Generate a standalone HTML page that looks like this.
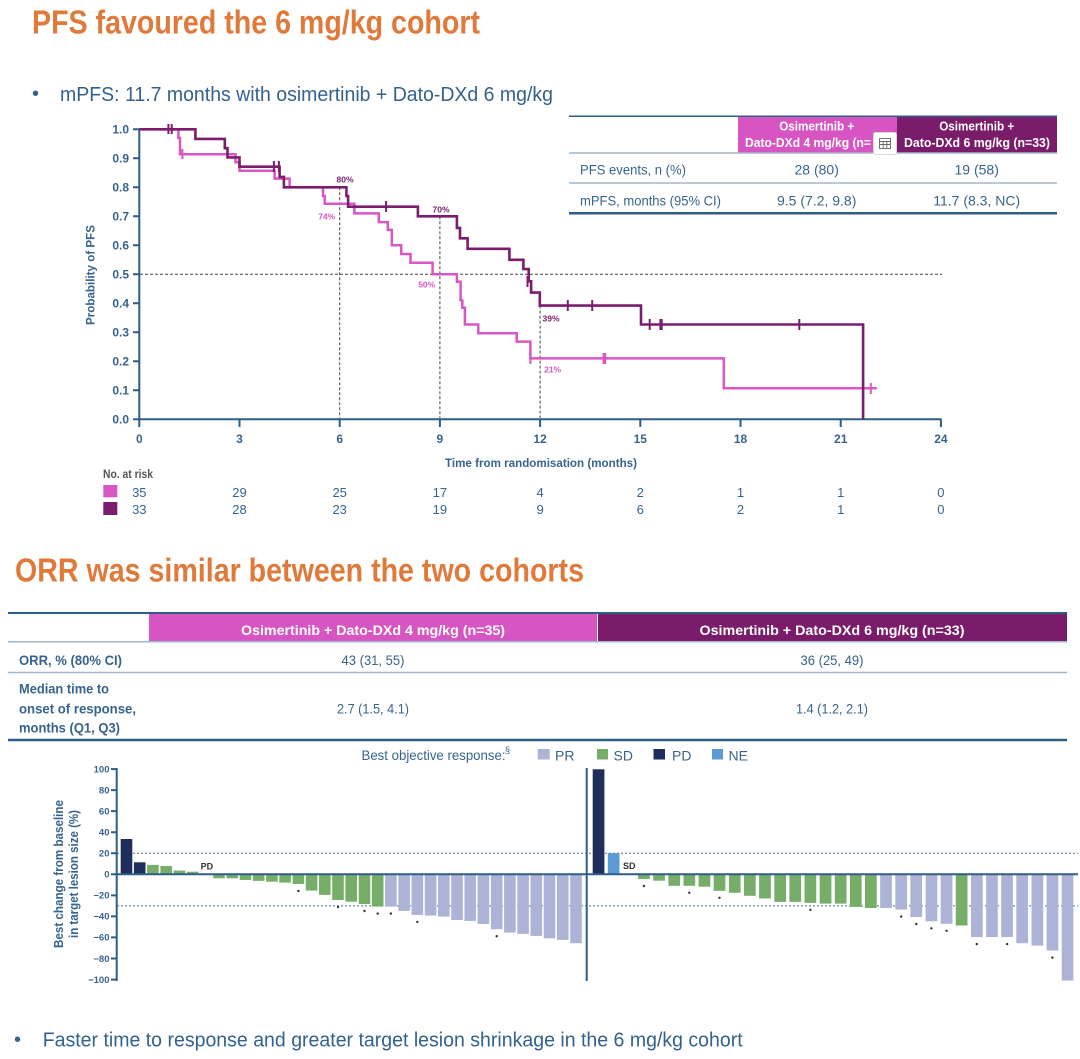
<!DOCTYPE html>
<html>
<head>
<meta charset="utf-8">
<style>
html,body{margin:0;padding:0;background:#fff;}
body{width:1080px;height:1059px;overflow:hidden;position:relative;}
svg{position:absolute;left:0;top:0;}
text{font-family:"Liberation Sans",Arial,sans-serif;}
.t{fill:#37648f;}
.b{font-weight:bold;}
</style>
</head>
<body>
<svg width="1080" height="1059" viewBox="0 0 1080 1059" xmlns="http://www.w3.org/2000/svg">
<rect width="1080" height="1059" fill="#fff"/>

<!-- Titles -->
<text x="32" y="33.5" font-size="33" font-weight="bold" fill="#e07a3a" textLength="448" lengthAdjust="spacingAndGlyphs">PFS favoured the 6 mg/kg cohort</text>
<text x="32" y="100" font-size="20" fill="#33628f">•</text>
<text x="60" y="101" font-size="20" fill="#33628f" textLength="493" lengthAdjust="spacingAndGlyphs">mPFS: 11.7 months with osimertinib + Dato-DXd 6 mg/kg</text>

<!-- KM axes -->
<g stroke="#2e5d86" stroke-width="2" fill="none">
  <line x1="139.3" y1="128.5" x2="139.3" y2="420"/>
  <line x1="138.3" y1="419.3" x2="941.5" y2="419.3"/>
  <path d="M133,419.3H139 M133,390.3H139 M133,361.3H139 M133,332.3H139 M133,303.3H139 M133,274.3H139 M133,245.3H139 M133,216.3H139 M133,187.3H139 M133,158.3H139 M133,129.3H139"/>
  <path d="M139.3,419V427 M239.5,419V427 M339.7,419V427 M439.9,419V427 M540.1,419V427 M640.3,419V427 M740.5,419V427 M840.7,419V427 M940.9,419V427"/>
</g>
<g class="t b" font-size="12" text-anchor="end">
  <text x="129" y="423.6">0.0</text>
  <text x="129" y="394.6">0.1</text>
  <text x="129" y="365.6">0.2</text>
  <text x="129" y="336.6">0.3</text>
  <text x="129" y="307.6">0.4</text>
  <text x="129" y="278.6">0.5</text>
  <text x="129" y="249.6">0.6</text>
  <text x="129" y="220.6">0.7</text>
  <text x="129" y="191.6">0.8</text>
  <text x="129" y="162.6">0.9</text>
  <text x="129" y="133.6">1.0</text>
</g>
<g class="t b" font-size="12" text-anchor="middle">
  <text x="139.3" y="443">0</text>
  <text x="239.5" y="443">3</text>
  <text x="339.7" y="443">6</text>
  <text x="439.9" y="443">9</text>
  <text x="540.1" y="443">12</text>
  <text x="640.3" y="443">15</text>
  <text x="740.5" y="443">18</text>
  <text x="840.7" y="443">21</text>
  <text x="940.9" y="443">24</text>
</g>
<text class="t b" x="445" y="467" font-size="12" textLength="192" lengthAdjust="spacingAndGlyphs">Time from randomisation (months)</text>
<text class="t b" font-size="12" text-anchor="middle" transform="translate(94.5,275) rotate(-90)" textLength="100" lengthAdjust="spacingAndGlyphs">Probability of PFS</text>

<!-- reference dashed lines -->
<g stroke="#444" stroke-width="1" stroke-dasharray="3,2" fill="none">
  <line x1="140" y1="274.3" x2="942" y2="274.3"/>
  <line x1="339.7" y1="187.3" x2="339.7" y2="418"/>
  <line x1="439.9" y1="216.3" x2="439.9" y2="418"/>
  <line x1="540.1" y1="305.6" x2="540.1" y2="418"/>
</g>

<!-- Pink curve -->
<path fill="none" stroke="#d957c4" stroke-width="2.5" d="M139.3,129.3 H178.4 V138 H180 V154.2 H235.5 V162.3 H239.5 V170.8 H274.6 V178.6 H289.6 V187.3 H323 V196 H324.7 V203.8 H354.4 V213.4 H378.8 V222.1 H387.8 V229.9 H391.8 V245.3 H401.2 V254 H410.5 V262.7 H432.6 V274.3 H456.9 V281.8 H460.6 V300.4 H462.3 V307.7 H464.9 V324.5 H478.3 V333.2 H516.7 V341.6 H530.4 V358.4 H723.8 V388.3 H876.8"/>
<g stroke="#d957c4" stroke-width="2">
  <path d="M182.4,149V159 M530.4,353V364 M603.6,353V364 M605.2,353V364 M870.8,383V394"/>
</g>
<!-- Purple curve -->
<path fill="none" stroke="#7b1d6c" stroke-width="2.6" d="M139.3,129.3 H195.4 V138.9 H224.8 V148.2 H227.5 V157.4 H239.5 V166.7 H279.6 V176.9 H283.9 V187.3 H346.4 V196 H348.1 V206.7 H417.9 V216.3 H456.9 V227.9 H460 V238.3 H467.6 V248.8 H509.4 V259.8 H523.4 V269.1 H528.7 V281.3 H531.1 V292.6 H539.8 V305.6 H641 V324.5 H863.1 V419.3"/>
<g stroke="#7b1d6c" stroke-width="2">
  <path d="M168.4,124V134 M171.7,124V134 M273.9,161V172 M278.9,161V172 M386.1,201V212 M527.5,276V287 M567.8,300V311 M592.2,300V311 M649.7,319V330 M660.4,319V330 M661.7,319V330 M799.3,319V330"/>
</g>

<!-- percentage labels -->
<g font-size="8.5" font-weight="bold" text-anchor="middle">
  <text x="345" y="182.5" fill="#7b1d6c">80%</text>
  <text x="326.7" y="219.3" fill="#d957c4">74%</text>
  <text x="441" y="212.3" fill="#7b1d6c">70%</text>
  <text x="426.7" y="287.6" fill="#d957c4">50%</text>
  <text x="551" y="321.6" fill="#7b1d6c">39%</text>
  <text x="552.6" y="372.6" fill="#d957c4">21%</text>
</g>

<!-- No. at risk -->
<text x="103" y="478" font-size="12" font-weight="bold" fill="#555" textLength="50" lengthAdjust="spacingAndGlyphs">No. at risk</text>
<rect x="103.3" y="485" width="14" height="12.3" fill="#d957c4"/>
<rect x="103.3" y="502" width="14" height="13" fill="#7b1d6c"/>
<g class="t" font-size="13" text-anchor="middle">
  <text x="139.3" y="497">35</text><text x="239.5" y="497">29</text><text x="339.7" y="497">25</text>
  <text x="439.9" y="497">17</text><text x="540.1" y="497">4</text><text x="640.3" y="497">2</text>
  <text x="740.5" y="497">1</text><text x="840.7" y="497">1</text><text x="940.9" y="497">0</text>
  <text x="139.3" y="514">33</text><text x="239.5" y="514">28</text><text x="339.7" y="514">23</text>
  <text x="439.9" y="514">19</text><text x="540.1" y="514">9</text><text x="640.3" y="514">6</text>
  <text x="740.5" y="514">2</text><text x="840.7" y="514">1</text><text x="940.9" y="514">0</text>
</g>

<!-- PFS table -->
<rect x="738" y="117" width="159" height="35.5" fill="#d655c2"/>
<rect x="897" y="117" width="160" height="35.5" fill="#7b1c6a"/>
<line x1="569" y1="116.3" x2="1057" y2="116.3" stroke="#2e5d86" stroke-width="1.5"/>
<line x1="569" y1="153" x2="1057" y2="153" stroke="#a3b7ca" stroke-width="1.5"/>
<line x1="569" y1="183" x2="1057" y2="183" stroke="#a3b7ca" stroke-width="1.5"/>
<line x1="569" y1="213.3" x2="1057" y2="213.3" stroke="#2e5d86" stroke-width="2.5"/>
<g fill="#fff" font-weight="bold" font-size="12.5">
  <text x="816.7" y="130.5" text-anchor="middle" textLength="75" lengthAdjust="spacingAndGlyphs">Osimertinib +</text>
  <text x="745" y="147" textLength="126" lengthAdjust="spacingAndGlyphs">Dato-DXd 4 mg/kg (n=</text>
  <text x="976.7" y="130.5" text-anchor="middle" textLength="75" lengthAdjust="spacingAndGlyphs">Osimertinib +</text>
  <text x="904" y="147" textLength="146" lengthAdjust="spacingAndGlyphs">Dato-DXd 6 mg/kg (n=33)</text>
</g>
<!-- small calculator icon overlay -->
<rect x="873.5" y="132.5" width="23" height="22" rx="2" fill="#fff" stroke="#d8d8d8" stroke-width="1"/>
<g stroke="#666" stroke-width="0.9" fill="none">
  <rect x="879.5" y="138.5" width="11" height="10"/>
  <path d="M879.5,141.5H890.5 M879.5,144.5H890.5 M883.2,141.5V148.5 M886.8,141.5V148.5"/>
</g>
<g class="t" font-size="14">
  <text x="580" y="174.5" textLength="106" lengthAdjust="spacingAndGlyphs">PFS events, n (%)</text>
  <text x="580" y="205.5" textLength="141" lengthAdjust="spacingAndGlyphs">mPFS, months (95% CI)</text>
  <text x="816.7" y="174.5" text-anchor="middle">28 (80)</text>
  <text x="976.7" y="174.5" text-anchor="middle">19 (58)</text>
  <text x="816.7" y="205.5" text-anchor="middle">9.5 (7.2, 9.8)</text>
  <text x="976.7" y="205.5" text-anchor="middle">11.7 (8.3, NC)</text>
</g>

<!-- ORR section -->
<text x="15" y="581.7" font-size="33" font-weight="bold" fill="#e07a3a" textLength="569" lengthAdjust="spacingAndGlyphs">ORR was similar between the two cohorts</text>

<rect x="149" y="614" width="448" height="27" fill="#d655c2"/>
<rect x="598" y="614" width="469" height="27" fill="#7b1c6a"/>
<line x1="8" y1="613" x2="1067" y2="613" stroke="#2e5d86" stroke-width="2"/>
<line x1="8" y1="641.7" x2="1067" y2="641.7" stroke="#a3b7ca" stroke-width="1.5"/>
<line x1="8" y1="672.5" x2="1067" y2="672.5" stroke="#a3b7ca" stroke-width="1.5"/>
<line x1="8" y1="740" x2="1067" y2="740" stroke="#2e5d86" stroke-width="2.5"/>
<g fill="#fff" font-weight="bold" font-size="14" text-anchor="middle">
  <text x="373" y="635" textLength="264" lengthAdjust="spacingAndGlyphs">Osimertinib + Dato-DXd 4 mg/kg (n=35)</text>
  <text x="832" y="635" textLength="265" lengthAdjust="spacingAndGlyphs">Osimertinib + Dato-DXd 6 mg/kg (n=33)</text>
</g>
<g class="t b" font-size="14">
  <text x="19" y="665" textLength="103" lengthAdjust="spacingAndGlyphs">ORR, % (80% CI)</text>
  <text x="19" y="693.5" textLength="90" lengthAdjust="spacingAndGlyphs">Median time to</text>
  <text x="19" y="713.3" textLength="117" lengthAdjust="spacingAndGlyphs">onset of response,</text>
  <text x="19" y="732.7" textLength="101" lengthAdjust="spacingAndGlyphs">months (Q1, Q3)</text>
</g>
<g class="t" font-size="14" text-anchor="middle">
  <text x="373" y="665" textLength="63" lengthAdjust="spacingAndGlyphs">43 (31, 55)</text>
  <text x="832" y="665" textLength="63" lengthAdjust="spacingAndGlyphs">36 (25, 49)</text>
  <text x="373" y="713.3" textLength="72" lengthAdjust="spacingAndGlyphs">2.7 (1.5, 4.1)</text>
  <text x="832" y="713.3" textLength="72" lengthAdjust="spacingAndGlyphs">1.4 (1.2, 2.1)</text>
</g>

<!-- legend -->
<text class="t" x="361.5" y="760" font-size="14" textLength="144" lengthAdjust="spacingAndGlyphs">Best objective response:</text>
<text class="t" x="505" y="753" font-size="9">§</text>
<rect x="537.7" y="749" width="12" height="10.5" fill="#adb3d6"/>
<text class="t" x="555" y="760.5" font-size="14">PR</text>
<rect x="597" y="749" width="11" height="10.5" fill="#76ad68"/>
<text class="t" x="613.5" y="760.5" font-size="14">SD</text>
<rect x="653.5" y="749" width="11.5" height="10.5" fill="#1e2f5c"/>
<text class="t" x="672" y="760.5" font-size="14">PD</text>
<rect x="712" y="749" width="11" height="10.5" fill="#5b9bd5"/>
<text class="t" x="728.5" y="760.5" font-size="14">NE</text>

<!-- Waterfall dashed refs -->
<g stroke="#4a6a8a" stroke-width="1" stroke-dasharray="2,2">
  <line x1="117" y1="853.3" x2="1078" y2="853.3"/>
  <line x1="117" y1="905.9" x2="1078" y2="905.9"/>
</g>

<!-- Left bars -->
<g fill="#1e2f5c">
  <rect x="120.7" y="839.0" width="11.6" height="35.3"/>
  <rect x="133.9" y="862.3" width="11.6" height="12.0"/>
</g>
<g fill="#76ad68">
  <rect x="147.1" y="864.9" width="11.6" height="9.4"/>
  <rect x="160.4" y="866.0" width="11.6" height="8.3"/>
  <rect x="173.6" y="870.6" width="11.6" height="3.7"/>
  <rect x="186.8" y="871.7" width="11.6" height="2.6"/>
  <rect x="213.2" y="874.3" width="11.6" height="4.0"/>
  <rect x="226.5" y="874.3" width="11.6" height="4.0"/>
  <rect x="239.7" y="874.3" width="11.6" height="5.7"/>
  <rect x="252.9" y="874.3" width="11.6" height="6.6"/>
  <rect x="266.1" y="874.3" width="11.6" height="7.4"/>
  <rect x="279.3" y="874.3" width="11.6" height="8.3"/>
  <rect x="292.6" y="874.3" width="11.6" height="9.7"/>
  <rect x="305.8" y="874.3" width="11.6" height="16.3"/>
  <rect x="319.0" y="874.3" width="11.6" height="20.6"/>
  <rect x="332.2" y="874.3" width="11.6" height="25.7"/>
  <rect x="345.4" y="874.3" width="11.6" height="27.4"/>
  <rect x="358.7" y="874.3" width="11.6" height="29.7"/>
  <rect x="371.9" y="874.3" width="11.6" height="32.3"/>
</g>
<g fill="#adb3d6">
  <rect x="385.1" y="874.3" width="11.6" height="32.3"/>
  <rect x="398.3" y="874.3" width="11.6" height="36.6"/>
  <rect x="411.5" y="874.3" width="11.6" height="40.6"/>
  <rect x="424.8" y="874.3" width="11.6" height="41.3"/>
  <rect x="438.0" y="874.3" width="11.6" height="42.3"/>
  <rect x="451.2" y="874.3" width="11.6" height="45.7"/>
  <rect x="464.4" y="874.3" width="11.6" height="46.6"/>
  <rect x="477.6" y="874.3" width="11.6" height="49.7"/>
  <rect x="490.9" y="874.3" width="11.6" height="54.9"/>
  <rect x="504.1" y="874.3" width="11.6" height="58.3"/>
  <rect x="517.3" y="874.3" width="11.6" height="59.6"/>
  <rect x="530.5" y="874.3" width="11.6" height="61.6"/>
  <rect x="543.7" y="874.3" width="11.6" height="64.0"/>
  <rect x="557.0" y="874.3" width="11.6" height="65.6"/>
  <rect x="570.2" y="874.3" width="11.6" height="68.9"/>
</g>
<text x="200.6" y="869.3" font-size="9" font-weight="bold" fill="#333">PD</text>
<g fill="#333">
  <circle cx="298.4" cy="891" r="1.2"/>
  <circle cx="338.0" cy="907" r="1.2"/>
  <circle cx="364.5" cy="911" r="1.2"/>
  <circle cx="377.7" cy="913.6" r="1.2"/>
  <circle cx="390.9" cy="913.6" r="1.2"/>
  <circle cx="417.3" cy="921.9" r="1.2"/>
  <circle cx="496.7" cy="936.2" r="1.2"/>
</g>

<!-- Right bars -->
<rect x="592.7" y="769.3" width="11.7" height="105.0" fill="#1e2f5c"/>
<rect x="607.8" y="853.1" width="11.7" height="21.2" fill="#5b9bd5"/>
<g fill="#76ad68">
  <rect x="638.1" y="874.3" width="11.7" height="4.7"/>
  <rect x="653.2" y="874.3" width="11.7" height="6.4"/>
  <rect x="668.4" y="874.3" width="11.7" height="11.5"/>
  <rect x="683.5" y="874.3" width="11.7" height="11.5"/>
  <rect x="698.6" y="874.3" width="11.7" height="12.4"/>
  <rect x="713.7" y="874.3" width="11.7" height="16.5"/>
  <rect x="728.9" y="874.3" width="11.7" height="18.5"/>
  <rect x="744.0" y="874.3" width="11.7" height="21.5"/>
  <rect x="759.1" y="874.3" width="11.7" height="24.2"/>
  <rect x="774.3" y="874.3" width="11.7" height="27.6"/>
  <rect x="789.4" y="874.3" width="11.7" height="27.6"/>
  <rect x="804.5" y="874.3" width="11.7" height="28.6"/>
  <rect x="819.7" y="874.3" width="11.7" height="29.3"/>
  <rect x="834.8" y="874.3" width="11.7" height="29.3"/>
  <rect x="849.9" y="874.3" width="11.7" height="32.6"/>
  <rect x="865.0" y="874.3" width="11.7" height="33.7"/>
  <rect x="955.8" y="874.3" width="11.7" height="51.2"/>
</g>
<g fill="#adb3d6">
  <rect x="880.2" y="874.3" width="11.7" height="33.7"/>
  <rect x="895.3" y="874.3" width="11.7" height="35.3"/>
  <rect x="910.4" y="874.3" width="11.7" height="42.7"/>
  <rect x="925.6" y="874.3" width="11.7" height="47.0"/>
  <rect x="940.7" y="874.3" width="11.7" height="49.5"/>
  <rect x="971.0" y="874.3" width="11.7" height="62.8"/>
  <rect x="986.1" y="874.3" width="11.7" height="62.8"/>
  <rect x="1001.2" y="874.3" width="11.7" height="62.8"/>
  <rect x="1016.3" y="874.3" width="11.7" height="68.9"/>
  <rect x="1031.5" y="874.3" width="11.7" height="71.3"/>
  <rect x="1046.6" y="874.3" width="11.7" height="76.3"/>
  <rect x="1061.7" y="874.3" width="11.7" height="106.3"/>
</g>
<text x="623" y="868.8" font-size="9" font-weight="bold" fill="#333">SD</text>
<g fill="#333">
  <circle cx="643.9" cy="886" r="1.2"/>
  <circle cx="689.3" cy="892.8" r="1.2"/>
  <circle cx="719.5" cy="897.8" r="1.2"/>
  <circle cx="810.4" cy="909.9" r="1.2"/>
  <circle cx="901.2" cy="916.6" r="1.2"/>
  <circle cx="916.3" cy="924" r="1.2"/>
  <circle cx="931.4" cy="928.3" r="1.2"/>
  <circle cx="946.6" cy="930.8" r="1.2"/>
  <circle cx="976.8" cy="944.1" r="1.2"/>
  <circle cx="1007.1" cy="944.1" r="1.2"/>
  <circle cx="1052.4" cy="957.6" r="1.2"/>
</g>

<!-- Waterfall axes -->
<g stroke="#2e5d86" stroke-width="2" fill="none">
  <line x1="116.7" y1="768" x2="116.7" y2="981"/>
  <line x1="586.7" y1="768" x2="586.7" y2="981"/>
  <line x1="116" y1="874.3" x2="1078" y2="874.3"/>
  <path d="M111,769.1H117 M111,790.1H117 M111,811.1H117 M111,832.2H117 M111,853.3H117 M111,874.3H117 M111,895.4H117 M111,916.4H117 M111,937.4H117 M111,958.5H117 M111,979.6H117"/>
</g>
<g class="t b" font-size="9.5" text-anchor="end">
  <text x="109.5" y="772.4">100</text>
  <text x="109.5" y="793.4">80</text>
  <text x="109.5" y="814.4">60</text>
  <text x="109.5" y="835.5">40</text>
  <text x="109.5" y="856.6">20</text>
  <text x="109.5" y="877.6">0</text>
  <text x="109.5" y="898.7">−20</text>
  <text x="109.5" y="919.7">−40</text>
  <text x="109.5" y="940.7">−60</text>
  <text x="109.5" y="961.8">−80</text>
  <text x="109.5" y="982.9">−100</text>
</g>
<g class="t b" font-size="13" text-anchor="middle">
  <text transform="translate(63,874) rotate(-90)" textLength="148" lengthAdjust="spacingAndGlyphs">Best change from baseline</text>
  <text transform="translate(78,874) rotate(-90)" textLength="128" lengthAdjust="spacingAndGlyphs">in target lesion size (%)</text>
</g>

<!-- Bottom bullet -->
<text x="14" y="1046" font-size="20" fill="#33628f">•</text>
<text x="42.7" y="1046.7" font-size="20" fill="#33628f" textLength="700" lengthAdjust="spacingAndGlyphs">Faster time to response and greater target lesion shrinkage in the 6 mg/kg cohort</text>
</svg>
</body>
</html>
